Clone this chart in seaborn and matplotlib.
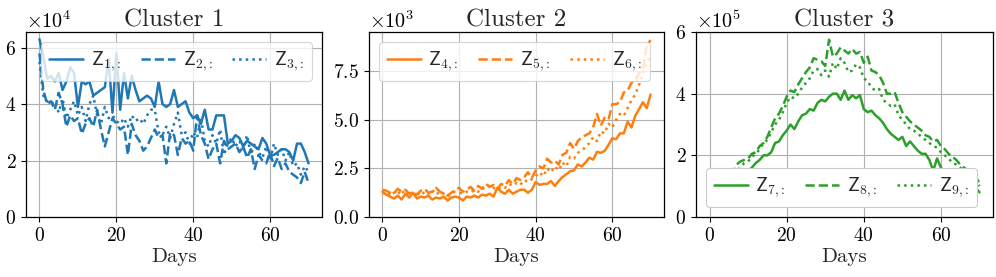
import numpy as np
import pandas as pd
import seaborn as sns
import matplotlib
matplotlib.use('Agg')
import matplotlib.pyplot as plt
from matplotlib.ticker import MultipleLocator

days = list(range(71))

# cluster 1 (x 1e4)
z1 = [6.3, 5.7, 4.9, 5.0, 4.8, 5.1, 4.5, 4.8, 5.3, 5.1, 3.9, 4.8, 4.7, 4.8, 4.3, 4.4, 4.5, 4.6, 5.6, 3.7,
      5.8, 3.8, 5.1, 4.2, 5.0, 4.5, 4.1, 4.2, 4.3, 4.2, 3.9, 4.8, 4.0, 3.9, 4.0, 4.5, 3.9, 4.0, 4.1, 3.7,
      3.5, 3.6, 3.3, 3.8, 3.1, 3.1, 3.6, 3.6, 3.6, 2.6, 2.7, 2.9, 2.8, 2.5, 2.7, 2.6, 2.5, 2.4, 2.8, 2.6,
      2.2, 2.2, 2.3, 2.4, 2.4, 2.3, 2.0, 2.6, 2.6, 2.3, 1.9]
z2 = [5.8, 4.5, 4.0, 4.1, 3.8, 4.4, 4.0, 3.2, 3.6, 3.4, 3.5, 2.95, 3.3, 3.5, 3.2, 3.8, 3.1, 2.5, 3.0, 3.5,
      3.3, 3.1, 3.2, 2.2, 3.3, 2.9, 2.7, 2.35, 2.5, 2.8, 3.1, 2.8, 2.9, 1.9, 3.0, 2.9, 2.2, 2.8, 2.6, 2.7,
      2.35, 3.6, 2.9, 2.6, 2.05, 2.4, 2.6, 1.9, 2.7, 2.4, 2.5, 2.6, 2.3, 2.5, 2.1, 2.4, 1.7, 2.2, 2.0, 1.9,
      2.3, 1.8, 2.1, 1.7, 1.9, 1.6, 1.5, 1.4, 1.2, 1.6, 1.2]
z3 = [5.5, 4.3, 4.1, 4.0, 4.1, 3.7, 4.2, 3.5, 3.8, 4.1, 3.6, 3.9, 3.4, 4.0, 4.3, 3.6, 3.3, 3.9, 3.5, 3.6,
      3.4, 3.3, 3.5, 3.2, 3.6, 3.4, 3.5, 3.3, 3.6, 3.8, 3.8, 3.0, 2.9, 3.2, 2.8, 3.3, 3.7, 2.9, 3.0, 2.6,
      3.0, 2.8, 3.5, 2.7, 2.5, 2.9, 2.6, 3.1, 2.2, 2.6, 2.8, 2.5, 2.7, 2.4, 2.9, 2.2, 2.6, 2.3, 2.1, 2.5,
      2.0, 2.6, 2.2, 2.4, 2.0, 2.3, 1.8, 1.9, 1.5, 1.8, 1.6]

# cluster 2 (x 1e3)
z4 = [1.3, 1.15, 1.05, 0.95, 1.1, 0.9, 1.2, 1.0, 1.25, 0.95, 1.05, 1.0, 1.1, 0.9, 1.0, 0.95, 1.05, 0.85, 1.0, 1.05,
      1.0, 0.85, 1.05, 1.0, 1.1, 1.0, 1.15, 1.1, 1.2, 1.05, 1.5, 1.3, 1.2, 1.4, 1.2, 1.3, 1.4, 1.4, 1.25, 1.4,
      1.8, 1.65, 1.7, 1.7, 1.85, 1.6, 1.85, 2.05, 2.2, 2.35, 2.4, 2.7, 2.6, 2.8, 3.05, 2.95, 3.35, 3.3, 3.4, 3.7,
      4.05, 4.0, 4.3, 4.3, 4.9, 4.6, 5.2, 5.55, 5.9, 5.6, 6.3]
z5 = [1.4, 1.35, 1.25, 1.2, 1.45, 1.3, 1.4, 1.2, 1.3, 1.15, 1.35, 1.45, 1.25, 1.3, 1.5, 1.3, 1.2, 1.1, 1.25, 1.4,
      1.5, 1.3, 1.4, 1.55, 1.35, 1.6, 1.45, 1.7, 1.55, 1.65, 1.45, 1.7, 1.6, 1.9, 1.7, 2.0, 1.9, 2.05, 2.3, 2.0,
      2.4, 2.6, 2.5, 3.0, 2.8, 2.9, 2.7, 3.2, 3.3, 3.8, 3.5, 3.9, 4.1, 4.2, 4.3, 4.6, 5.3, 4.7, 5.1, 5.0,
      5.8, 5.8, 5.9, 6.4, 6.5, 6.9, 7.0, 7.4, 7.6, 8.8, 9.1]
z6 = [1.2, 1.3, 1.1, 1.25, 1.15, 1.4, 1.1, 1.3, 1.2, 1.25, 1.1, 1.3, 1.2, 1.4, 1.15, 1.3, 1.2, 1.05, 1.2, 1.3,
      1.25, 1.2, 1.3, 1.25, 1.4, 1.3, 1.5, 1.45, 1.65, 1.5, 1.4, 1.55, 1.5, 1.7, 1.6, 1.75, 1.65, 1.9, 1.8, 1.95,
      2.1, 2.3, 2.1, 2.5, 2.3, 2.6, 2.4, 2.8, 2.6, 3.1, 3.0, 3.3, 3.4, 3.6, 3.8, 4.1, 3.9, 4.4, 4.3, 4.8,
      4.6, 5.0, 5.3, 5.2, 5.6, 6.0, 6.3, 6.8, 7.4, 7.9, 8.3]

# cluster 3 (x 1e5)
z7 = [0.9, 1.0, 1.05, 1.2, 1.3, 1.25, 1.4, 1.35, 1.5, 1.45, 1.5, 1.6, 1.75, 1.85, 2.0, 2.0, 2.1, 2.4, 2.45, 2.65,
      2.8, 3.0, 2.85, 3.1, 3.3, 3.35, 3.5, 3.45, 3.7, 3.8, 3.75, 3.9, 4.0, 4.0, 3.8, 4.1, 3.8, 3.95, 3.85, 3.95,
      3.5, 3.4, 3.45, 3.3, 3.2, 3.05, 2.85, 2.7, 2.6, 2.5, 2.6, 2.3, 2.45, 2.3, 2.15, 2.05, 2.05, 1.85, 1.5, 1.9,
      1.6, 1.45, 1.5, 1.35, 1.3, 1.25, 1.2, 1.15, 1.05, 0.95, 0.8]
z8 = [1.0, 1.1, 1.2, 1.3, 1.4, 1.4, 1.35, 1.7, 1.8, 1.85, 1.9, 2.05, 2.1, 2.3, 2.4, 2.6, 2.9, 3.2, 3.35, 3.6,
      3.9, 4.1, 4.05, 4.3, 4.5, 4.7, 4.85, 5.15, 5.1, 5.05, 4.9, 5.75, 5.2, 5.3, 5.5, 5.4, 5.3, 5.45, 5.3, 5.35,
      5.0, 5.2, 4.75, 4.7, 4.6, 4.35, 4.0, 4.0, 4.05, 3.7, 3.4, 3.25, 3.1, 3.0, 2.9, 2.8, 2.65, 2.6, 2.45, 2.5,
      2.3, 2.2, 2.05, 1.95, 1.85, 1.7, 1.6, 1.5, 1.4, 1.3, 1.1]
z9 = [0.8, 0.95, 1.0, 1.1, 1.2, 1.3, 1.25, 1.5, 1.6, 1.75, 1.8, 1.95, 2.05, 2.2, 2.4, 2.5, 2.75, 3.0, 3.15, 3.4,
      3.7, 3.9, 3.85, 4.0, 4.2, 4.35, 4.5, 4.75, 4.8, 4.6, 4.75, 4.55, 5.0, 4.8, 5.15, 5.0, 4.7, 4.75, 4.95, 4.85,
      4.5, 4.4, 4.2, 4.1, 4.15, 3.8, 3.7, 3.6, 3.65, 3.3, 3.15, 3.0, 2.85, 2.8, 2.7, 2.6, 2.5, 2.4, 2.3, 2.25,
      2.1, 2.0, 1.9, 1.75, 1.7, 1.6, 1.5, 1.45, 1.35, 1.2, 1.0]

clusters = ['Cluster 1', 'Cluster 2', 'Cluster 3']
scales = [1e4, 1e3, 1e5]
series = [[z1, z2, z3], [z4, z5, z6], [z7, z8, z9]]
colors = ['#1f77b4', '#ff7f0e', '#2ca02c']
styles = ['-', '--', ':']
ytick_steps = [2e4, 2.5e3, 2e5]
legend_locs = ['upper right', 'upper left', 'lower left']

sns.set_theme(style='ticks', rc={'axes.grid': True, 'grid.color': '#b0b0b0', 'grid.linewidth': 0.8,
                                 'axes.edgecolor': 'black', 'xtick.color': 'black', 'ytick.color': 'black',
                                 'axes.linewidth': 0.9})
plt.rcParams['font.family'] = 'serif'
plt.rcParams['font.serif'] = ['cmr10']
plt.rcParams['mathtext.fontset'] = 'cm'
plt.rcParams['axes.formatter.use_mathtext'] = True
plt.rcParams['axes.unicode_minus'] = False

fig = plt.figure(figsize=(9.96, 2.77), dpi=100)
rects = [[26/996, 60/277, 296/996, 185/277],
         [369/996, 60/277, 295/996, 185/277],
         [696/996, 60/277, 297/996, 185/277]]

for c in range(3):
    ax = fig.add_axes(rects[c])
    for k in range(3):
        idx = 3 * c + k + 1
        df = pd.DataFrame({'Days': days, 'v': np.array(series[c][k]) * scales[c]})
        sns.lineplot(data=df, x='Days', y='v', ax=ax, color=colors[c], linestyle=styles[k],
                     linewidth=1.8, label=r'$\mathsf{Z}_{%d{,}:}$' % idx)
    if c == 2:
        ax.set_ylim(0, 6e5)
    else:
        ax.set_ylim(bottom=0)
    ax.yaxis.set_major_locator(MultipleLocator(ytick_steps[c]))
    ax.ticklabel_format(axis='y', style='sci', scilimits=(0, 0))
    ax.yaxis.get_offset_text().set_fontsize(14.5)
    ax.set_title(clusters[c], fontsize=18, pad=4)
    ax.set_xlabel('Days', fontsize=15, labelpad=2)
    ax.set_ylabel('')
    ax.set_xticks([0, 20, 40, 60])
    ax.tick_params(labelsize=14, length=3.5, width=0.8)
    leg = ax.legend(loc=legend_locs[c], ncol=3, fontsize=14, handlelength=1.75, handletextpad=0.4,
                    columnspacing=1.0, borderaxespad=0.5, framealpha=1.0 if c == 2 else 0.8)
    leg.get_frame().set_linewidth(0.8)

fig.savefig('out.png', dpi=100)
